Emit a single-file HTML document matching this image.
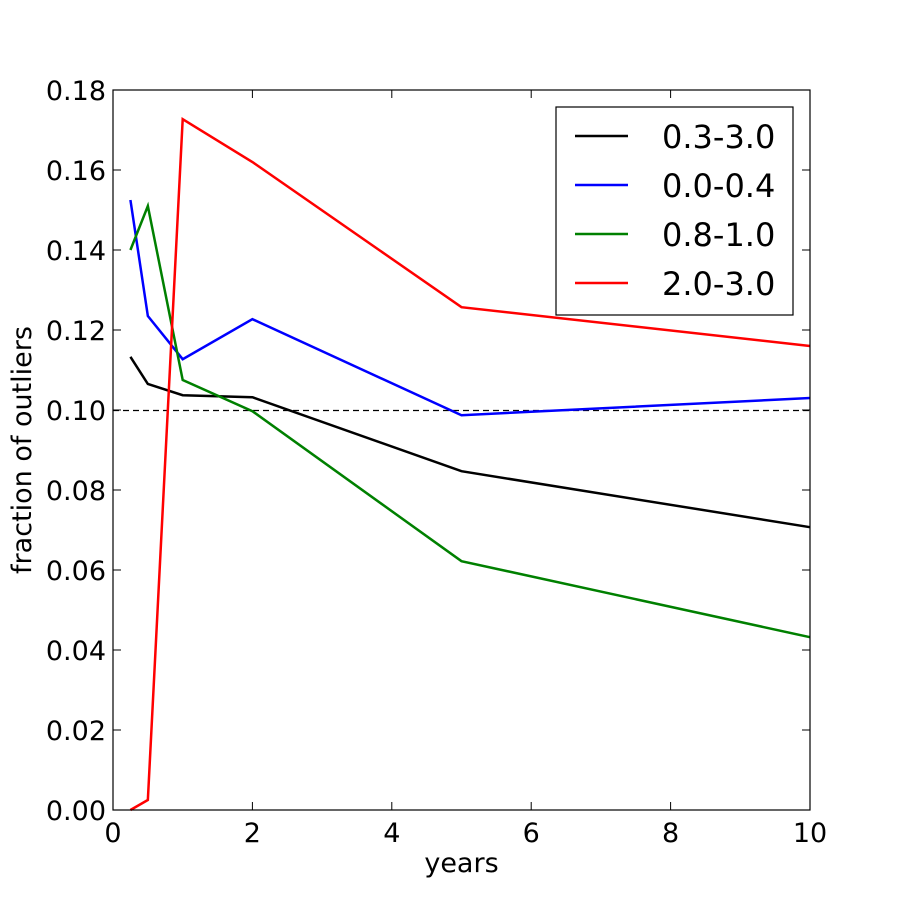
<!DOCTYPE html>
<html><head><meta charset="utf-8"><style>body{margin:0;background:#fff}svg{display:block}text{font-family:"DejaVu Sans","Liberation Sans",sans-serif}</style></head>
<body>
<svg id="c" width="900" height="900" viewBox="0 0 900 900" xmlns="http://www.w3.org/2000/svg"></svg>
<script>
const xs = [0.25, 0.5, 1, 2, 5, 10];
const sBlack = [0.1133, 0.1065, 0.1037, 0.1032, 0.0847, 0.0707];
const sBlue = [0.1525, 0.1235, 0.1127, 0.1227, 0.0987, 0.1030];
const sGreen = [0.1400, 0.1510, 0.1075, 0.0997, 0.0622, 0.0432];
const sRed = [0.0000, 0.0025, 0.1727, 0.1620, 0.1257, 0.1160];
const seriesNames = ["0.3-3.0", "0.0-0.4", "0.8-1.0", "2.0-3.0"];
const xTicks = [0, 2, 4, 6, 8, 10];
const yTicks = [0, 0.02, 0.04, 0.06, 0.08, 0.10, 0.12, 0.14, 0.16, 0.18];
const refLine = 0.10;

const L=113,R=810,T=90,B=810;
const X=v=>L+(v-0)/(10-0)*(R-L);
const Y=v=>B-(v-0)/(0.18-0)*(B-T);
const svg=document.getElementById('c');
const NS='http://www.w3.org/2000/svg';
function mk(tag,attrs,parent){const e=document.createElementNS(NS,tag);for(const k in attrs)e.setAttribute(k,attrs[k]);(parent||svg).appendChild(e);return e;}

const rl=mk('line',{x1:L,x2:R,y1:Y(refLine)+0.5,y2:Y(refLine)+0.5,stroke:'#000','stroke-width':1.2,'stroke-dasharray':'6,4'});



const colors=['#000000','#0000ff','#008000','#ff0000'];
const all=[sBlack,sBlue,sGreen,sRed];
all.forEach((s,i)=>{
  const p=mk('polyline',{points:s.map((v,j)=>X(xs[j])+','+Y(v)).join(' '),fill:'none',stroke:colors[i],'stroke-width':2.5});
  
  
});

const box=mk('rect',{x:L,y:T,width:R-L,height:B-T,fill:'none',stroke:'#000','stroke-width':1.2});



xTicks.forEach(t=>{
  mk('line',{x1:X(t),x2:X(t),y1:B,y2:B-8,stroke:'#000'});
  mk('line',{x1:X(t),x2:X(t),y1:T,y2:T+8,stroke:'#000'});
  const tx=mk('text',{x:X(t),y:B+32,'font-size':27,'text-anchor':'middle'});tx.textContent=t;
  
  
});
yTicks.forEach(t=>{
  mk('line',{x1:L,x2:L+8,y1:Y(t),y2:Y(t),stroke:'#000'});
  mk('line',{x1:R,x2:R-8,y1:Y(t),y2:Y(t),stroke:'#000'});
  const tx=mk('text',{x:L-7,y:Y(t)+10,'font-size':27,'text-anchor':'end'});tx.textContent=t.toFixed(2);
  
  
});
const xt=mk('text',{x:(L+R)/2,y:872,'font-size':27,'text-anchor':'middle'});xt.textContent='years';


const yt=mk('text',{x:31,y:(T+B)/2,'font-size':27,'text-anchor':'middle',transform:'rotate(-90 31 '+((T+B)/2)+')'});yt.textContent='fraction of outliers';



const lg=mk('g',{});


mk('rect',{x:556,y:107,width:237,height:208,fill:'#fff',stroke:'#000','stroke-width':1.2},lg);
seriesNames.forEach((n,i)=>{
  const y=136+i*49;
  const e=mk('g',{},lg);
  
  
  mk('line',{x1:575,x2:628,y1:y,y2:y,stroke:colors[i],'stroke-width':2.5},e);
  const t=mk('text',{x:662,y:y+12,'font-size':32},e);t.textContent=n;
});
</script>
</body></html>
